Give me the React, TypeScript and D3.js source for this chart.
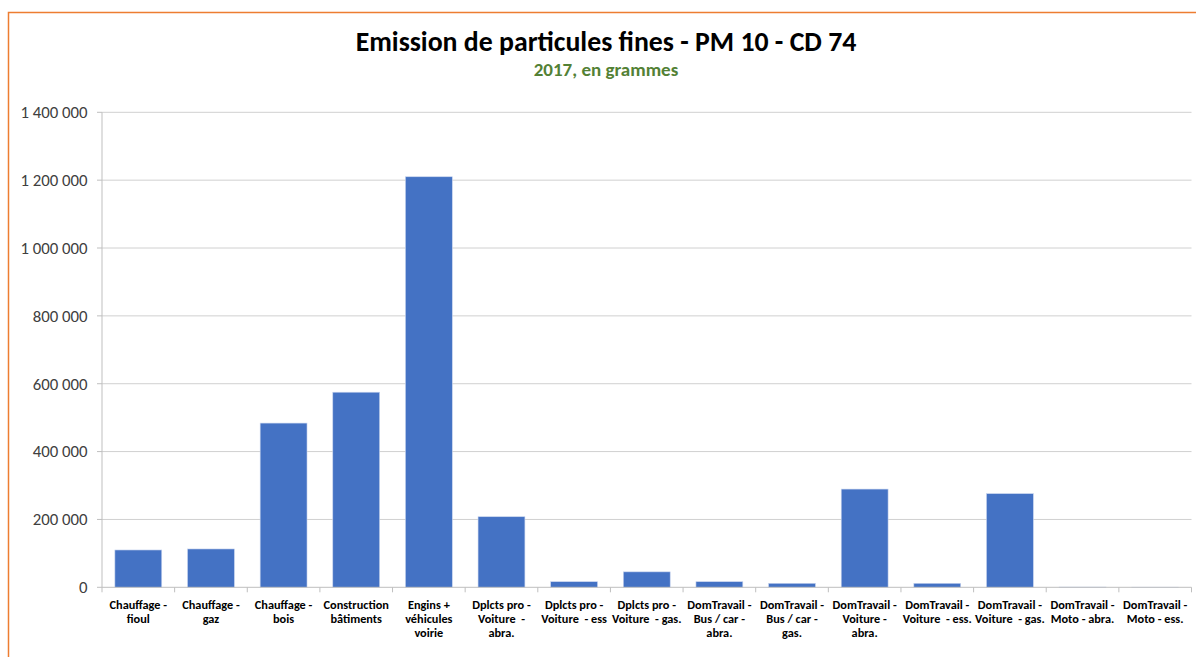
import React from "react";
import * as d3 from "d3";

const categories: string[] = [
  "Chauffage -\nfioul",
  "Chauffage -\ngaz",
  "Chauffage -\nbois",
  "Construction\nbâtiments",
  "Engins +\nvéhicules\nvoirie",
  "Dplcts pro -\nVoiture  -\nabra.",
  "Dplcts pro -\nVoiture  - ess",
  "Dplcts pro -\nVoiture  - gas.",
  "DomTravail -\nBus / car -\nabra.",
  "DomTravail -\nBus / car -\ngas.",
  "DomTravail -\nVoiture -\nabra.",
  "DomTravail -\nVoiture  - ess.",
  "DomTravail -\nVoiture  - gas.",
  "DomTravail -\nMoto - abra.",
  "DomTravail -\nMoto - ess.",
];

const values: number[] = [
  110000, 113000, 484000, 575000, 1210000, 208000, 16500, 45500, 16500, 11800,
  289500, 11800, 276000, 800, 300,
];

const yTicks: number[] = [0, 200000, 400000, 600000, 800000, 1000000, 1200000, 1400000];

const title = "Emission de particules fines - PM 10 - CD 74";
const subtitle = "2017, en grammes";

const FONT = "Carlito, 'Liberation Sans Narrow', 'DejaVu Sans Condensed', 'Liberation Sans', sans-serif";

export default function App() {
  const W = 1196;
  const H = 657;
  const left = 102;
  const right = 1191.5;
  const top = 112.3;
  const bottom = 587.3;

  const x = d3
    .scaleBand<number>()
    .domain(categories.map((_, i) => i))
    .range([left, right])
    .paddingInner(0.3548)
    .paddingOuter(0.1774);
  const y = d3.scaleLinear().domain([0, 1400000]).range([bottom, top]);
  const step = (right - left) / categories.length;
  const fmt = (v: number) => d3.format(",")(v).replace(/,/g, " ");

  return (
    <svg
      width={W}
      height={H}
      style={{ position: "absolute", left: 0, top: 0, background: "#fff" }}
      fontFamily={FONT}
    >
      <rect x={0} y={0} width={W} height={H} fill="#fff" />
      <rect x={8.5} y={12.5} width={1250} height={700} fill="none" stroke="#ED7D31" strokeWidth={1.5} />
      <text x={606} y={51} textAnchor="middle" fontSize={27.8} fontWeight="bold" fill="#000">
        {title}
      </text>
      <text x={606} y={76} textAnchor="middle" fontSize={19} fontWeight="bold" fill="#538135">
        {subtitle}
      </text>
      {yTicks.map((t) => (
        <g key={t}>
          {t > 0 && (
            <line x1={left} x2={right} y1={y(t)} y2={y(t)} stroke="#d0d0d0" strokeWidth={1} />
          )}
          <line x1={left - 5} x2={left} y1={y(t)} y2={y(t)} stroke="#bfbfbf" strokeWidth={1} />
          <text x={87.5} y={y(t)} dy="0.35em" textAnchor="end" fontSize={16.8} fill="#404040">
            {fmt(t)}
          </text>
        </g>
      ))}
      <line x1={left} x2={left} y1={top} y2={bottom} stroke="#bfbfbf" strokeWidth={1} />
      {values.map((v, i) => (
        <rect
          key={i}
          x={x(i)!}
          y={y(v)}
          width={x.bandwidth()}
          height={bottom - y(v)}
          fill="#4472C4"
          stroke="#c9d5ee"
          strokeWidth={0.6}
        />
      ))}
      <line x1={left} x2={right} y1={bottom} y2={bottom} stroke="#bfbfbf" strokeWidth={1} />
      {d3.range(categories.length + 1).map((i) => (
        <line
          key={i}
          x1={left + i * step}
          x2={left + i * step}
          y1={bottom}
          y2={bottom + 5}
          stroke="#bfbfbf"
          strokeWidth={1}
        />
      ))}
      {categories.map((c, i) => (
        <text
          key={i}
          x={x(i)! + x.bandwidth() / 2}
          y={608.5}
          textAnchor="middle"
          fontSize={12.3}
          fontWeight="bold"
          fill="#000"
        >
          {c.split("\n").map((line, j) => (
            <tspan key={j} x={x(i)! + x.bandwidth() / 2} dy={j === 0 ? 0 : 14.2} style={{ whiteSpace: "pre" }}>
              {line}
            </tspan>
          ))}
        </text>
      ))}
    </svg>
  );
}
